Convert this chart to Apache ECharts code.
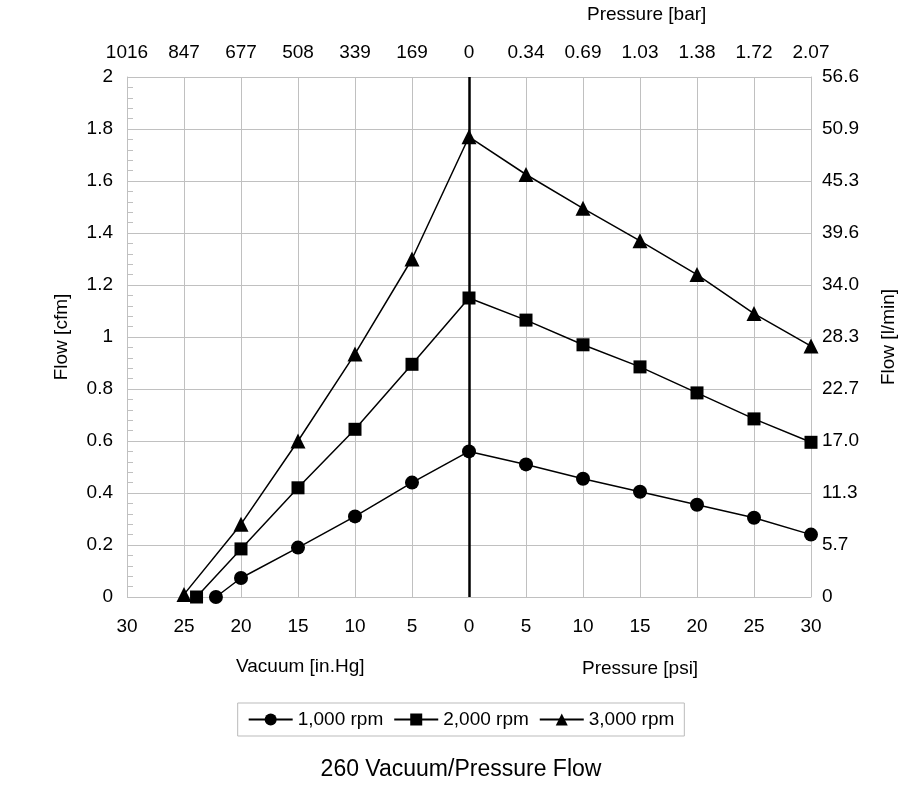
<!DOCTYPE html>
<html>
<head>
<meta charset="utf-8">
<script src="https://cdn.jsdelivr.net/npm/echarts@6/dist/echarts.min.js"></script>
<style>
  html, body { margin: 0; padding: 0; background: #fff; }
  #chart { width: 922px; height: 788px; }
</style>
</head>
<body>
<div id="chart"></div>
<script>
// x: negative = vacuum [in.Hg], positive = pressure [psi]
var x1000 = [-22.2, -20, -15, -10, -5, 0, 5, 10, 15, 20, 25, 30];
var flow1000 = [0, 0.073, 0.19, 0.31, 0.44, 0.56, 0.51, 0.455, 0.405, 0.355, 0.305, 0.24];

var x2000 = [-23.9, -20, -15, -10, -5, 0, 5, 10, 15, 20, 25, 30];
var flow2000 = [0, 0.185, 0.42, 0.645, 0.895, 1.15, 1.065, 0.97, 0.885, 0.785, 0.685, 0.595];

var x3000 = [-25, -20, -15, -10, -5, 0, 5, 10, 15, 20, 25, 30];
var flow3000 = [0.01, 0.28, 0.60, 0.935, 1.30, 1.77, 1.625, 1.495, 1.37, 1.24, 1.09, 0.965];

// top axis labels (mbar vacuum / bar pressure)
var topLabels = ['1016', '847', '677', '508', '339', '169', '0', '0.34', '0.69', '1.03', '1.38', '1.72', '2.07'];
// right axis labels [l/min]
var rightLabels = ['0', '5.7', '11.3', '17.0', '22.7', '28.3', '34.0', '39.6', '45.3', '50.9', '56.6'];

var FONT = 'Liberation Sans, Arial, sans-serif';
var FS = 19;

function pairs(xs, ys) {
  var out = [];
  for (var i = 0; i < xs.length; i++) out.push([xs[i], ys[i]]);
  return out;
}

var myChart = echarts.init(document.getElementById('chart'));

// 公共的线条样式
function lineSeries(name, xs, ys, symbol, size) {
  return {
    name: name,
    type: 'line',
    data: pairs(xs, ys),
    symbol: symbol,
    symbolSize: size,
    lineStyle: { color: '#000', width: 1.5 },
    itemStyle: { color: '#000' },
    animation: false
  };
}

var s1 = lineSeries('1,000 rpm', x1000, flow1000, 'circle', 14);
var s2 = lineSeries('2,000 rpm', x2000, flow2000, 'rect', 13);
var s3 = lineSeries('3,000 rpm', x3000, flow3000, 'triangle', 15);

// 0 线
s1.markLine = {
  silent: true,
  symbol: 'none',
  label: { show: false },
  lineStyle: { color: '#000', width: 2.5, type: 'solid' },
  data: [{ xAxis: 0 }]
};

var option = {
  backgroundColor: '#fff',
  textStyle: { fontFamily: FONT, color: '#000' },
  grid: { left: 127, right: 111, top: 77, bottom: 191 },
  title: {
    text: '260 Vacuum/Pressure Flow',
    left: 'center',
    top: 753,
    textStyle: { fontFamily: FONT, fontSize: 23, fontWeight: 'normal', color: '#000' }
  },
  legend: {
    bottom: 52,
    left: 'center',
    itemWidth: 44,
    itemHeight: 15,
    itemGap: 10,
    padding: [7, 10],
    borderColor: '#bbb',
    borderWidth: 1,
    textStyle: { fontFamily: FONT, fontSize: FS, color: '#000' },
    data: ['1,000 rpm', '2,000 rpm', '3,000 rpm']
  },
  xAxis: [{
    type: 'value',
    position: 'bottom',
    min: -30, max: 30, interval: 5,
    axisLine: { show: false },
    axisTick: { show: false },
    axisLabel: {
      fontFamily: FONT, fontSize: FS, color: '#000', margin: 20,
      formatter: function (v) { return String(Math.abs(v)); }
    },
    splitLine: { show: true, lineStyle: { color: '#c0c0c0', width: 1 } }
  }, {
    type: 'value',
    position: 'top',
    min: -30, max: 30, interval: 5,
    axisLine: { show: false },
    axisTick: { show: false },
    splitLine: { show: false },
    axisLabel: {
      fontFamily: FONT, fontSize: FS, color: '#000', margin: 15,
      formatter: function (v) { return topLabels[Math.round((v + 30) / 5)]; }
    }
  }],
  yAxis: [{
    type: 'value',
    min: 0, max: 2, interval: 0.2,
    name: 'Flow [cfm]',
    nameLocation: 'middle',
    nameGap: 56,
    nameTextStyle: { fontFamily: FONT, fontSize: FS, color: '#000' },
    axisLine: { show: true, onZero: false, lineStyle: { color: '#c0c0c0' } },
    axisTick: { show: false, inside: true },
    minorTick: { show: true, splitNumber: 5, length: 6, lineStyle: { color: '#c0c0c0' } },
    axisLabel: { fontFamily: FONT, fontSize: FS, color: '#000', margin: 14 },
    splitLine: { show: true, lineStyle: { color: '#c0c0c0', width: 1 } }
  }, {
    type: 'value',
    min: 0, max: 56.6, interval: 5.66,
    name: 'Flow [l/min]',
    nameLocation: 'middle',
    nameGap: 68,
    nameRotate: 90,
    nameTextStyle: { fontFamily: FONT, fontSize: FS, color: '#000' },
    axisLine: { show: true, onZero: false, lineStyle: { color: '#c0c0c0' } },
    axisTick: { show: false },
    splitLine: { show: false },
    axisLabel: {
      fontFamily: FONT, fontSize: FS, color: '#000', margin: 11,
      formatter: function (v) { return rightLabels[Math.round(v / 5.66)]; }
    }
  }],
  graphic: [{
    type: 'text', left: 236, top: 657,
    style: { text: 'Vacuum [in.Hg]', font: FS + 'px ' + FONT, fill: '#000' }
  }, {
    type: 'text', left: 582, top: 659,
    style: { text: 'Pressure [psi]', font: FS + 'px ' + FONT, fill: '#000' }
  }, {
    type: 'text', left: 587, top: 5,
    style: { text: 'Pressure [bar]', font: FS + 'px ' + FONT, fill: '#000' }
  }],
  series: [s1, s2, s3]
};

myChart.setOption(option);
</script>
</body>
</html>
